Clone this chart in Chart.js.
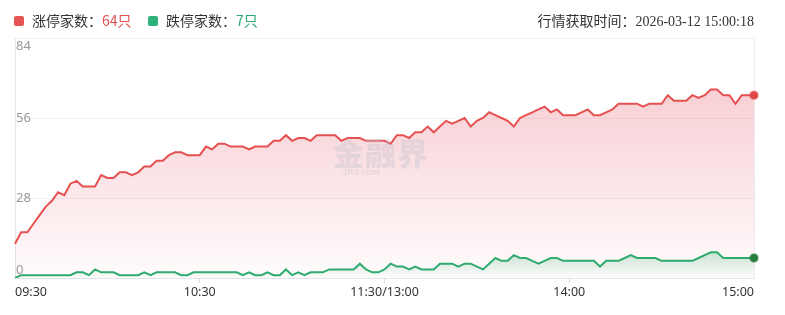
<!DOCTYPE html>
<html>
<head>
<meta charset="utf-8">
<script src="https://cdn.jsdelivr.net/npm/chart.js@4.4.1/dist/chart.umd.min.js"></script>
<style>
body { margin: 0; background: #fff; }
#wrap { position: relative; width: 785px; height: 315px; font-family: "Noto Sans CJK SC", "Noto Sans", sans-serif; }
#zt { position: absolute; left: 0; top: 0; }
.lg { position: absolute; top: 10px; font-size: 14px; line-height: 20px; color: #333; white-space: nowrap; }
.lg i { display: inline-block; width: 10px; height: 10px; border-radius: 2px; margin-right: 8px; vertical-align: 0px; }
.time { position: absolute; top: 10px; right: 31px; font-size: 14px; line-height: 20px; color: #333; white-space: nowrap; }
.time span { font-family: "Liberation Serif", serif; }
.wm { position: absolute; left: 333px; top: 134px; color: rgba(190,190,205,0.36); pointer-events: none; text-align: center; }
.wm b { display: block; font-size: 31px; font-weight: 900; line-height: 36px; letter-spacing: 1px; }
.wm s { display: block; text-decoration: none; font: bold 9px "Liberation Sans", sans-serif; margin-top: -3px; margin-left: -40px; }
</style>
</head>
<body>
<div id="wrap">
  <canvas id="zt" width="785" height="315"></canvas>
  <div class="lg" style="left:14px"><i style="background:#e85454"></i>涨停家数：<span style="color:#e05050">64只</span></div>
  <div class="lg" style="left:148px"><i style="background:#2db37a"></i>跌停家数：<span style="color:#2aa872">7只</span></div>
  <div class="time">行情获取时间：<span>2026-03-12 15:00:18</span></div>
  <div class="wm"><b>金融界</b><s>JRJ.com</s></div>
</div>
<script>
// 每2分钟一个点 09:30-11:30, 13:00-15:00
const tickLabels = ['09:30', '10:30', '11:30/13:00', '14:00', '15:00'];

const times = [];
for (let m = 9 * 60 + 30; m <= 11 * 60 + 30; m += 2) {
    times.push(String(Math.floor(m / 60)).padStart(2, '0') + ':' + String(m % 60).padStart(2, '0'));
}
times[times.length - 1] = '11:30/13:00';
for (let m = 13 * 60 + 2; m <= 15 * 60; m += 2) {
    times.push(String(Math.floor(m / 60)).padStart(2, '0') + ':' + String(m % 60).padStart(2, '0'));
}

const zhangting = [
    12, 16, 16, 19, 22, 25, 27, 30, 29, 33,
    34, 32, 32, 32, 36, 35, 35, 37, 37, 36,
    37, 39, 39, 41, 41, 43, 44, 44, 43, 43,
    43, 46, 45, 47, 47, 46, 46, 46, 45, 46,
    46, 46, 48, 48, 50, 48, 49, 49, 48, 50,
    50, 50, 50, 48, 49, 49, 49, 48, 48, 48,
    48, 47, 50, 50, 49, 51, 51, 53, 51, 53,
    55, 54, 55, 56, 53, 55, 56, 58, 57, 56,
    55, 53, 56, 57, 58, 59, 60, 58, 59, 57,
    57, 57, 58, 59, 57, 57, 58, 59, 61, 61,
    61, 61, 60, 61, 61, 61, 64, 62, 62, 62,
    64, 63, 64, 66, 66, 64, 64, 61, 64, 64,
    64
];

const dieting = [
    0, 1, 1, 1, 1, 1, 1, 1, 1, 1,
    2, 2, 1, 3, 2, 2, 2, 1, 1, 1,
    1, 2, 1, 2, 2, 2, 2, 1, 1, 2,
    2, 2, 2, 2, 2, 2, 2, 1, 2, 1,
    1, 2, 1, 1, 3, 1, 2, 1, 2, 2,
    2, 3, 3, 3, 3, 3, 5, 3, 2, 2,
    3, 5, 4, 4, 3, 4, 3, 3, 3, 5,
    5, 5, 4, 5, 5, 4, 3, 5, 7, 6,
    6, 8, 7, 7, 6, 5, 6, 7, 7, 6,
    6, 6, 6, 6, 6, 4, 6, 6, 6, 7,
    8, 7, 7, 7, 7, 6, 6, 6, 6, 6,
    6, 7, 8, 9, 9, 7, 7, 7, 7, 7,
    7
];

const redLine = '#e55050';
const greenLine = '#2eab6f';

function redFill(ctx) {
    const area = ctx.chart.chartArea;
    if (!area) return 'rgba(230,80,100,0.1)';
    const g = ctx.chart.ctx.createLinearGradient(0, area.top, 0, area.bottom);
    g.addColorStop(0, 'rgba(228,80,100,0.34)');
    g.addColorStop(1, 'rgba(228,80,100,0.02)');
    return g;
}

function greenFill(ctx) {
    const chart = ctx.chart;
    const area = chart.chartArea;
    if (!area) return 'rgba(46,170,110,0.1)';
    const top = chart.scales.y.getPixelForValue(10);
    const g = chart.ctx.createLinearGradient(0, top, 0, area.bottom);
    g.addColorStop(0, 'rgba(46,170,110,0.28)');
    g.addColorStop(1, 'rgba(46,170,110,0)');
    return g;
}

const lastIdx = times.length - 1;

new Chart(document.getElementById('zt').getContext('2d'), {
    type: 'line',
    data: {
        labels: times,
        datasets: [{
            label: '涨停家数',
            data: zhangting,
            borderColor: redLine,
            borderWidth: 2,
            backgroundColor: redFill,
            fill: 'origin',
            tension: 0,
            order: 2,
            pointRadius: c => c.dataIndex === lastIdx ? 4 : 0,
            pointBackgroundColor: '#e04848',
            pointBorderColor: 'rgba(229,80,80,0.35)',
            pointBorderWidth: 2
        }, {
            label: '跌停家数',
            data: dieting,
            borderColor: greenLine,
            borderWidth: 2,
            backgroundColor: greenFill,
            fill: 'origin',
            tension: 0,
            order: 1,
            pointRadius: c => c.dataIndex === lastIdx ? 4 : 0,
            pointBackgroundColor: '#2a7e40',
            pointBorderColor: 'rgba(42,126,64,0.35)',
            pointBorderWidth: 2
        }]
    },
    options: {
        responsive: false,
        animation: false,
        layout: { padding: { left: 15, right: 31, top: 38, bottom: 0 } },
        plugins: {
            legend: { display: false },
            tooltip: { enabled: false }
        },
        scales: {
            x: {
                ticks: {
                    autoSkip: false,
                    maxRotation: 0,
                    align: 'inner',
                    padding: 2,
                    color: '#333',
                    font: { family: 'Noto Sans', size: 12.5 },
                    callback: function (val) {
                        const l = this.getLabelForValue(val);
                        return tickLabels.includes(l) ? l : null;
                    }
                },
                grid: {
                    drawOnChartArea: true,
                    color: c => c.tick && c.tick.value === lastIdx ? '#ececec' : 'rgba(0,0,0,0)',
                    tickColor: c => c.tick && (c.tick.value === 0 || c.tick.value === lastIdx) ? 'rgba(0,0,0,0)' : '#dcdcdc',
                    tickLength: 5
                },
                border: { display: true, color: '#e3e3e3' },
                afterFit: s => { s.height = 37; }
            },
            y: {
                min: 0,
                max: 84,
                ticks: {
                    stepSize: 28,
                    mirror: true,
                    padding: 1,
                    color: '#999',
                    font: { family: 'Noto Sans', size: 13 },
                    callback: v => v === 84 ? ['', '84'] : v === 0 ? ['0', ''] : String(v)
                },
                grid: { color: '#f1f1f1', drawTicks: false },
                border: { display: true, color: '#e6e6e6' },
                afterFit: s => { s.width = 0; }
            }
        }
    }
});
</script>
</body>
</html>
